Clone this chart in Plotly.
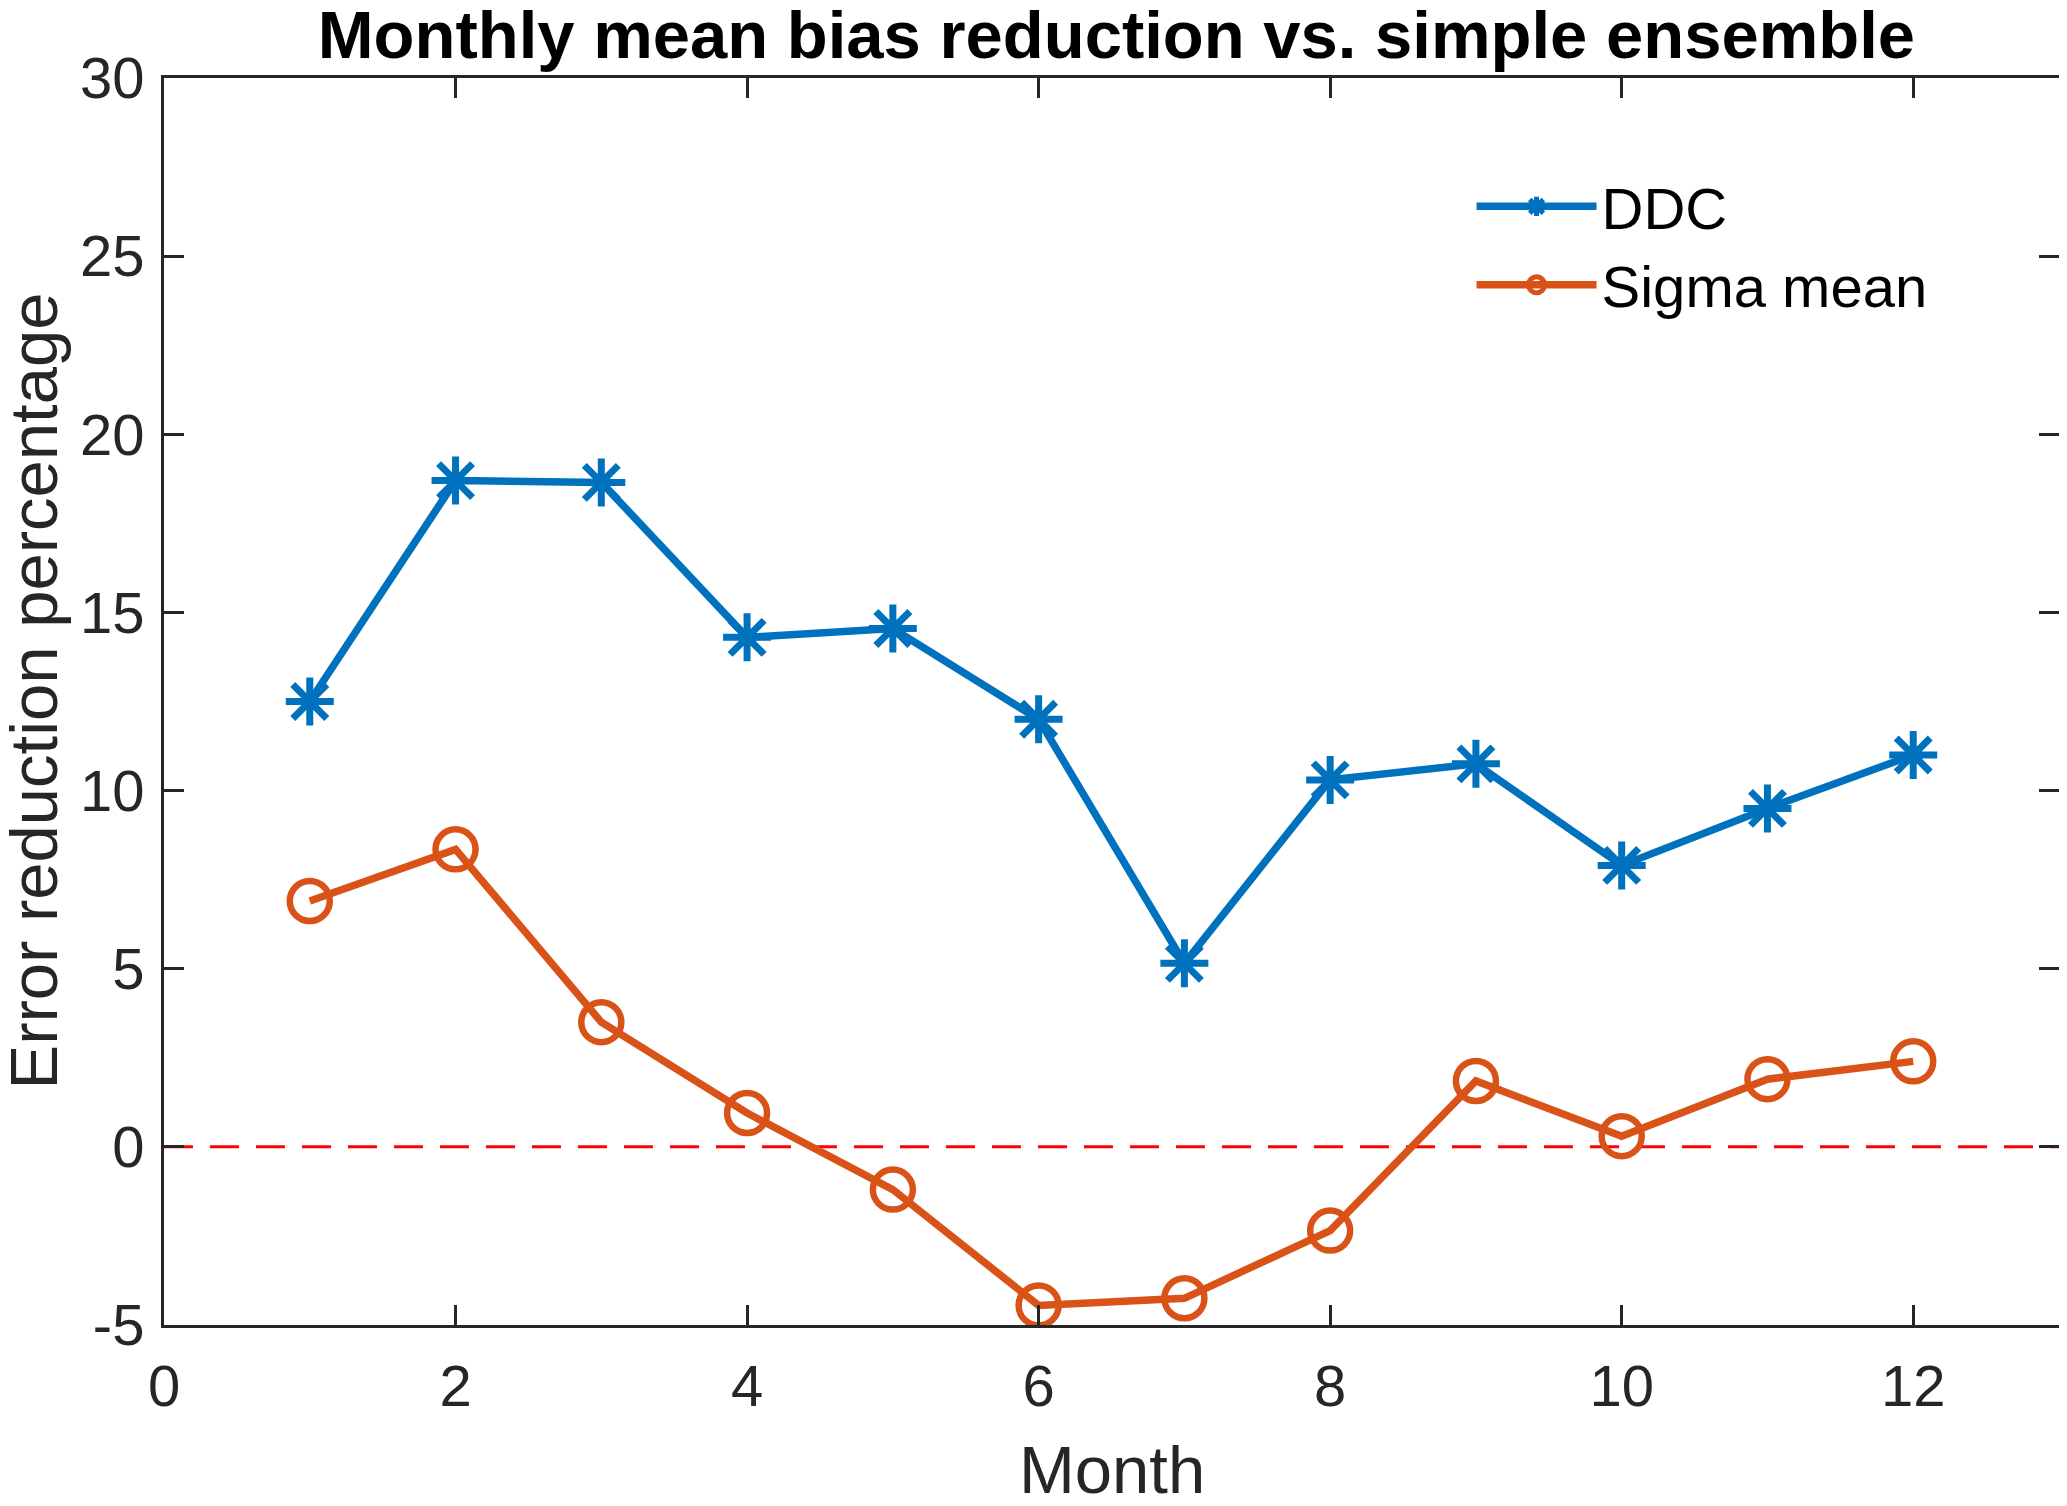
import plotly.graph_objects as go

months = [1, 2, 3, 4, 5, 6, 7, 8, 9, 10, 11, 12]
ddc = [12.5, 18.7, 18.65, 14.3, 14.55, 12.0, 5.15, 10.3, 10.75, 7.9, 9.5, 11.0]
sigma_mean = [6.9, 8.35, 3.5, 0.95, -1.2, -4.45, -4.25, -2.35, 1.85, 0.3, 1.9, 2.4]

x_ticks = [0, 2, 4, 6, 8, 10, 12]
y_ticks = [-5, 0, 5, 10, 15, 20, 25, 30]
y_ticktext = [str(v) for v in y_ticks]

BLUE = "#0072BD"
ORANGE = "#D95319"
AX = "#262626"
FONT = "Liberation Sans, Arial, Helvetica, sans-serif"

fig = go.Figure()
fig.add_trace(go.Scatter(
    x=months, y=ddc, name="DDC", mode="lines+markers",
    line=dict(color=BLUE, width=7.5),
    marker=dict(symbol="asterisk-open", size=40, color=BLUE,
                line=dict(color=BLUE, width=7)),
))
fig.add_trace(go.Scatter(
    x=months, y=sigma_mean, name="Sigma mean", mode="lines+markers",
    line=dict(color=ORANGE, width=7.5),
    marker=dict(symbol="circle-open", size=40, color=ORANGE,
                line=dict(color=ORANGE, width=6.5)),
))

fig.add_hline(y=0, line=dict(color="#FF0000", width=3, dash="29px,17px"), layer="below")

axis_common = dict(
    showline=True, linecolor=AX, linewidth=3, mirror="ticks",
    ticks="inside", ticklen=20, tickwidth=3, tickcolor=AX,
    showgrid=False, zeroline=False, automargin=False,
    tickfont=dict(family=FONT, size=58, color=AX),
)

fig.update_layout(
    width=2051, height=1490,
    margin=dict(l=156, r=0, t=70, b=173),
    paper_bgcolor="white", plot_bgcolor="white",
    title=dict(text="<b>Monthly mean bias reduction vs. simple ensemble</b>",
               font=dict(family=FONT, size=67, color="black"),
               x=0.5026, xanchor="center", xref="paper",
               y=0.982, yanchor="middle", yref="container"),
    xaxis=dict(range=[0, 13], tickvals=x_ticks, ticklabelstandoff=8, **axis_common),
    yaxis=dict(range=[-5, 30], tickvals=y_ticks, ticktext=y_ticktext,
               ticklabelstandoff=5, **axis_common),
    legend=dict(x=0.69, y=0.9325, xanchor="left", yanchor="top",
                font=dict(family=FONT, size=58, color="black"),
                bgcolor="rgba(0,0,0,0)", borderwidth=0, itemwidth=120),
    showlegend=True,
)

# axis titles
fig.add_annotation(text="Month", xref="paper", yref="paper", x=0.5, y=0,
                   xanchor="center", yanchor="middle", yshift=-144, showarrow=False,
                   font=dict(family=FONT, size=67, color=AX))
fig.add_annotation(text="Error reduction percentage", xref="paper", yref="paper", x=0, y=0.5,
                   xanchor="center", yanchor="middle", xshift=-131, yshift=10, textangle=-90,
                   showarrow=False, font=dict(family=FONT, size=67, color=AX))

fig.write_html("out.html")
